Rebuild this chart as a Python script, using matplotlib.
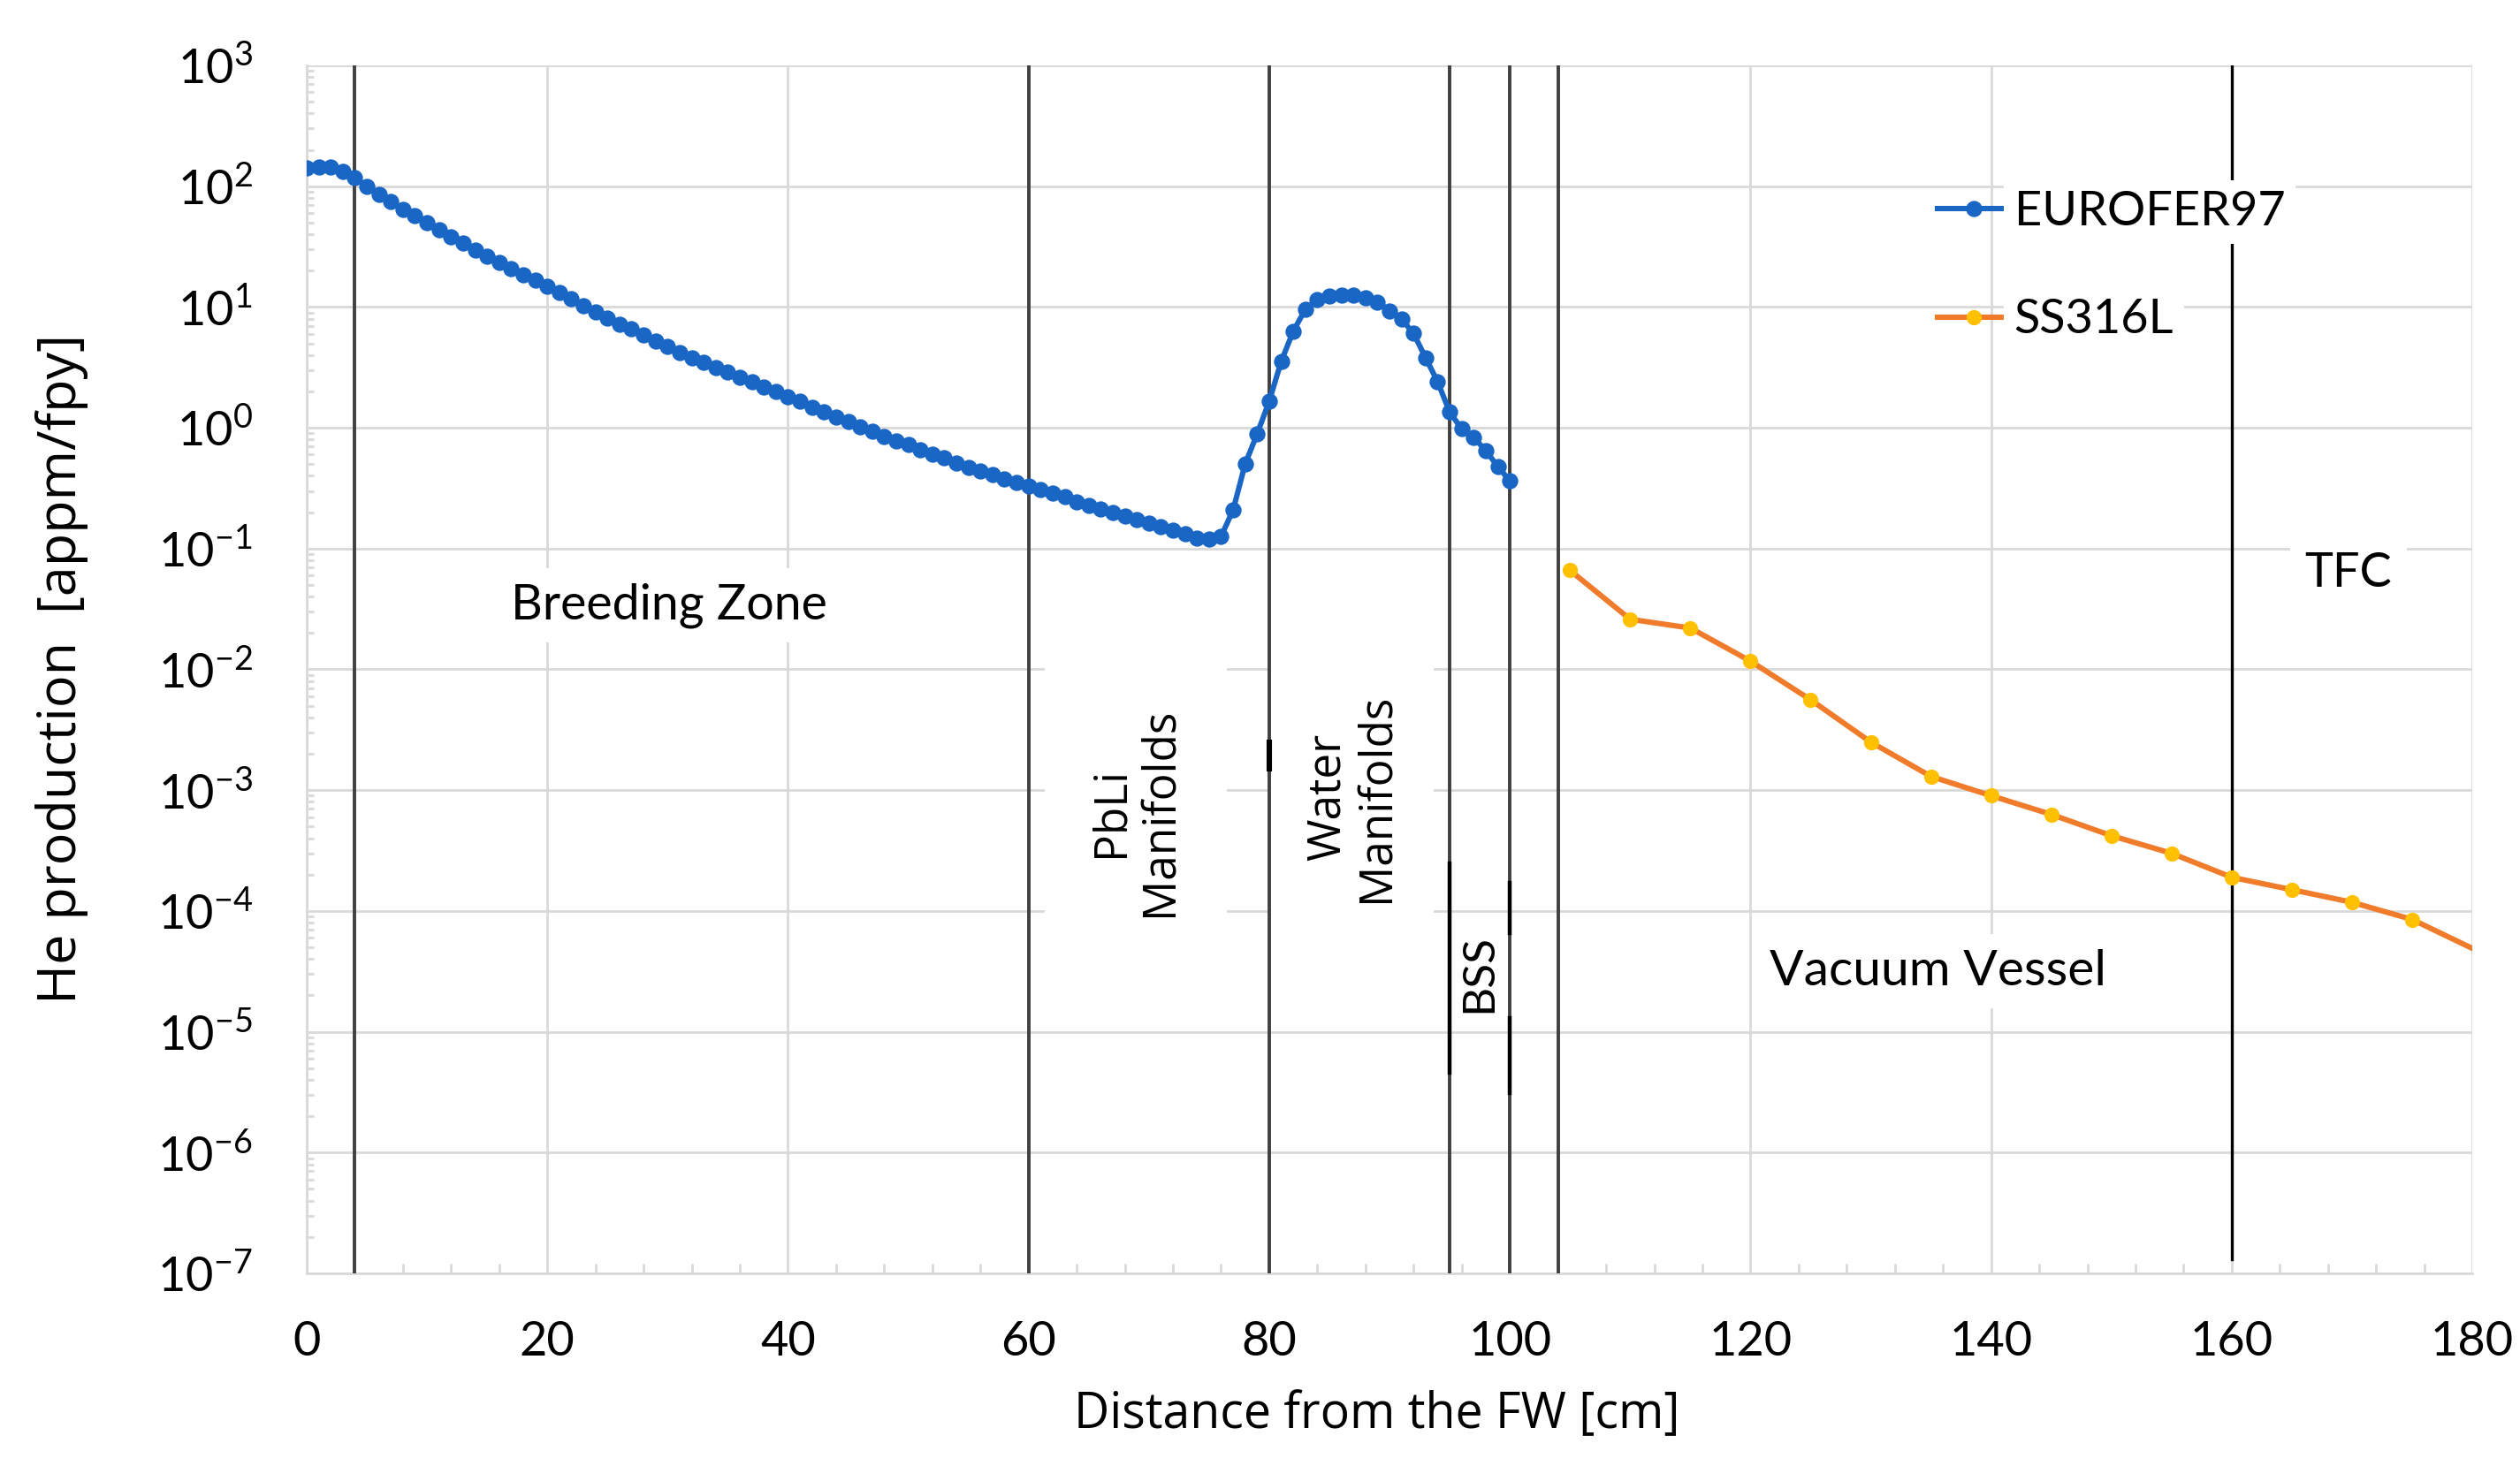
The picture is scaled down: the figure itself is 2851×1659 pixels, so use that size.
import numpy as np
import matplotlib
matplotlib.use("Agg")
import matplotlib.pyplot as plt
from matplotlib.ticker import MultipleLocator, LogLocator, FixedLocator, FuncFormatter

plt.rcParams['font.family'] = ['Lato', 'DejaVu Sans']
plt.rcParams['mathtext.fontset'] = 'custom'
plt.rcParams['mathtext.rm'] = 'Lato'
plt.rcParams['mathtext.it'] = 'Lato:italic'
plt.rcParams['mathtext.bf'] = 'Lato:bold'

# EUROFER97 He production, 1 cm steps from the first wall
euro_x = list(range(0, 101))
euro_y = [141, 145, 145, 132, 117, 100, 85.1, 74.1, 64.6, 57.5,
          50.1, 43.7, 38.0, 33.9, 29.5, 26.3, 23.4, 20.9, 18.6, 16.6,
          14.8, 13.2, 11.7, 10.2, 9.12, 8.13, 7.24, 6.61, 5.89, 5.25,
          4.68, 4.17, 3.80, 3.47, 3.16, 2.88, 2.63, 2.40, 2.19, 2.00,
          1.82, 1.66, 1.48, 1.35, 1.23, 1.12, 1.02, 0.933, 0.851, 0.776,
          0.724, 0.661, 0.603, 0.562, 0.513, 0.468, 0.437, 0.407, 0.380, 0.355,
          0.331, 0.309, 0.288, 0.269, 0.245, 0.229, 0.214, 0.200, 0.186, 0.174,
          0.162, 0.151, 0.141, 0.132, 0.123, 0.120, 0.126, 0.209, 0.501, 0.891,
          1.66, 3.55, 6.31, 9.55, 11.5, 12.3, 12.6, 12.6, 12.0, 11.0,
          9.33, 7.94, 6.03, 3.80, 2.40, 1.35, 0.977, 0.832, 0.646, 0.479,
          0.363]

# SS316L He production in the vacuum vessel / TFC
ss_x = [105, 110, 115, 120, 125, 130, 135, 140, 145, 150, 155, 160, 165, 170, 175, 180]
ss_y = [0.066, 0.026, 0.022, 0.0117, 0.0056, 0.0025, 0.0013, 0.0009, 0.00063,
        0.00042, 0.0003, 0.00019, 0.00015, 0.000118, 0.000085, 0.000049]

# component boundaries [cm]
bounds = [4, 60, 80, 95, 100, 104]
tfc_x = 160

zones = ["Breeding Zone", "PbLi\nManifolds", "Water\nManifolds", "BSS", "Vacuum Vessel", "TFC"]

blue = '#1a66c4'
orange = '#f07b2a'
yellow = '#ffc000'
grid_c = '#d9d9d9'

fig = plt.figure(figsize=(2851 / 200, 1659 / 200), dpi=200)
fig.subplots_adjust(left=0.1217, right=0.9811, top=0.9554, bottom=0.1314)
ax = fig.add_subplot(111)

ax.set_yscale('log')
ax.set_xlim(0, 180)
ax.set_ylim(1e-7, 1e3)

ax.grid(True, which='major', color=grid_c, lw=1.0, zorder=0)
ax.set_axisbelow(True)
for s in ['top', 'right']:
    ax.spines[s].set_visible(False)
for s in ['left', 'bottom']:
    ax.spines[s].set_color(grid_c)
    ax.spines[s].set_linewidth(1.0)

ax.xaxis.set_major_locator(MultipleLocator(20))
ax.xaxis.set_minor_locator(MultipleLocator(4))
ax.yaxis.set_major_locator(FixedLocator([10.0 ** e for e in range(-7, 4)]))
ax.yaxis.set_minor_locator(LogLocator(base=10, subs=np.arange(2, 10), numticks=20))
ax.yaxis.set_major_formatter(FuncFormatter(
    lambda v, p: r'$\mathregular{10^{%d}}$' % int(round(np.log10(v)))))
ax.tick_params(which='major', length=0, labelsize=19.5, colors='black')
ax.tick_params(axis='x', which='major', pad=19)
ax.tick_params(axis='y', which='major', pad=22)
ax.tick_params(which='minor', direction='in', color=grid_c, width=1.0)
ax.tick_params(axis='x', which='minor', length=4)
ax.tick_params(axis='y', which='minor', length=3)

# boundary lines
for b in bounds:
    ax.axvline(b, color='#404040', lw=1.4, zorder=3)
ax.plot([tfc_x, tfc_x], [1e3, 1.3e-7], color='black', lw=1.2, zorder=3)
# darker pieces around BSS and water manifolds
ax.plot([95, 95], [2.5e-4, 4.6e-6], color='black', lw=1.6, zorder=3)
ax.plot([100, 100], [1.7e-4, 6.6e-5], color='black', lw=1.6, zorder=3)
ax.plot([100, 100], [1.3e-5, 3.1e-6], color='black', lw=1.6, zorder=3)
ax.plot([80, 80], [2.5e-3, 1.5e-3], color='black', lw=2.2, zorder=3)

# data
ax.plot(euro_x, euro_y, color=blue, lw=2.2, marker='o', ms=5.6,
        mfc=blue, mec=blue, label='EUROFER97', zorder=4)
ax.plot(ss_x, ss_y, color=orange, lw=2.2, marker='o', ms=5.2,
        mfc=yellow, mec=yellow, markevery=list(range(15)), label='SS316L', zorder=4)

# zone labels
box = dict(facecolor='white', edgecolor='none', pad=6)
ax.text(30.1, 10 ** -1.47, zones[0], fontsize=20, ha='center', va='center',
        bbox=box, zorder=2)
ax.text(68.9, 10 ** -3.18, zones[1], fontsize=18.5, family='Open Sans', rotation=90,
        ha='center', va='center', multialignment='center', linespacing=1.1,
        bbox=dict(facecolor='white', edgecolor='none', pad=18), zorder=2)
ax.text(86.9, 10 ** -3.06, zones[2], fontsize=18.5, family='Open Sans', rotation=90,
        ha='center', va='center', multialignment='center', linespacing=1.1,
        bbox=dict(facecolor='white', edgecolor='none', pad=14), zorder=2)
ax.text(97.4, 10 ** -4.52, zones[3], fontsize=18.5, rotation=90,
        ha='center', va='center', bbox=dict(facecolor='white', edgecolor='none', pad=3),
        zorder=2)
ax.text(135.6, 10 ** -4.50, zones[4], fontsize=20.5, ha='center', va='center',
        bbox=box, zorder=2)
ax.text(169.7, 10 ** -1.2, zones[5], fontsize=19.5, ha='center', va='center',
        bbox=box, zorder=2)

ax.set_xlabel('Distance from the FW [cm]', family='Open Sans', fontsize=20, labelpad=11)
ax.xaxis.label.set_x(0.494)
ax.set_ylabel('He production  [appm/fpy]', family='Open Sans', fontsize=22, labelpad=28)

leg = ax.legend(loc='center left', bbox_to_anchor=(0.742, 0.834), frameon=False,
                fontsize=19.5, handlelength=1.5, handletextpad=0.1, labelspacing=1.35,
                borderpad=0)
for t in leg.get_texts():
    t.set_bbox(dict(facecolor='white', edgecolor='none', pad=4))
leg.set_zorder(6)

fig.savefig('out.png', dpi=200)
